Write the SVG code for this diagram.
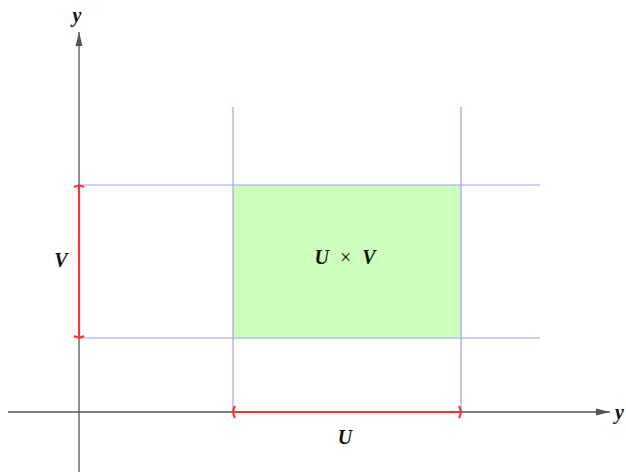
<svg xmlns="http://www.w3.org/2000/svg" width="626" height="475" viewBox="0 0 626 475">
<style>
.axis{stroke:#555;stroke-width:1.3;fill:none}
.grid{stroke:#a0a0f0;stroke-width:1.2;fill:none}
.red{stroke:#f03838;stroke-width:2.2;fill:none}
.lbl{font-family:"Liberation Serif",serif;font-weight:bold;font-style:italic;font-size:20px;fill:#111;text-anchor:middle}
</style>
<defs>
<marker id="arr" viewBox="0 0 14 10" refX="14" refY="5" markerWidth="14" markerHeight="10" markerUnits="userSpaceOnUse" orient="auto">
<path d="M0,1.5 L14,5 L0,8.5 Z" fill="#555"/>
</marker>
</defs>
<rect id="region" x="233" y="185" width="228" height="153" fill="#ccffbb"/>
<g id="grid">
<line class="grid" x1="233" y1="107" x2="233" y2="412"/>
<line class="grid" x1="461" y1="107" x2="461" y2="412"/>
<line class="grid" x1="79" y1="185" x2="540" y2="185"/>
<line class="grid" x1="79" y1="338" x2="540" y2="338"/>
</g>
<g id="axes">
<line class="axis" x1="8" y1="412" x2="610" y2="412" marker-end="url(#arr)"/>
<line class="axis" x1="79" y1="472" x2="79" y2="32" marker-end="url(#arr)"/>
</g>
<g id="intervals">
<line class="red" x1="233" y1="412" x2="461" y2="412"/>
<path class="red" d="M235,406 Q231.5,412 235,418"/>
<path class="red" d="M459,406 Q462.5,412 459,418"/>
<line class="red" x1="79" y1="185" x2="79" y2="338"/>
<path class="red" d="M74,187 Q79,184 84,187"/>
<path class="red" d="M74,336 Q79,339 84,336"/>
</g>
<g id="labels">
<text class="lbl" x="77" y="22">y</text>
<text class="lbl" x="624" y="419" style="text-anchor:end">y</text>
<text class="lbl" x="61" y="267">V</text>
<text class="lbl" x="345" y="444">U</text>
<text class="lbl" x="345" y="264" font-size="22">U <tspan font-style="normal" font-weight="normal" dx="6">×</tspan> <tspan dx="6">V</tspan></text>
</g>
</svg>
